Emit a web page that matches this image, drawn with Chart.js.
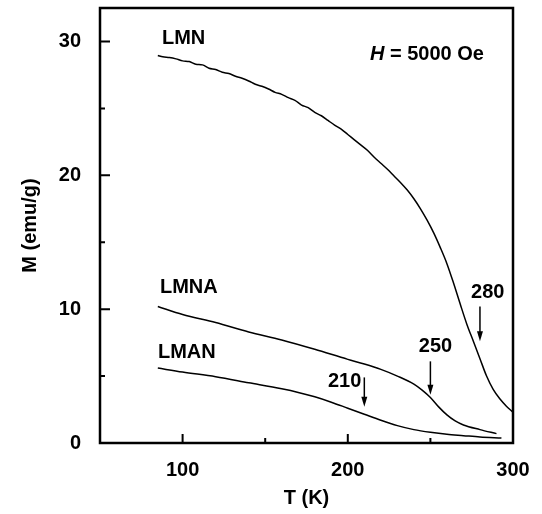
<!DOCTYPE html>
<html>
<head>
<meta charset="utf-8">
<script src="https://cdn.jsdelivr.net/npm/chart.js@4"></script>
<style>
  body { margin: 0; background: #fff; }
</style>
</head>
<body>
<canvas id="graf" width="542" height="514"></canvas>
<script>
// LMN, H = 5000 Oe
const tLMN = [85, 88, 92, 96, 100, 104, 108, 112, 116, 120, 124, 128, 132, 136, 140, 144, 148, 152, 156, 160,
  164, 168, 172, 176, 180, 184, 188, 192, 196, 200, 204, 208, 212, 216, 220, 224, 228, 232, 236, 240,
  244, 248, 252, 256, 260, 264, 268, 272, 276, 280, 284, 288, 292, 296, 300];
const mLMN = [28.95, 28.85, 28.8, 28.7, 28.55, 28.5, 28.3, 28.25, 28.0, 27.9, 27.7, 27.6, 27.4, 27.25, 27.05, 26.8, 26.65, 26.45, 26.2, 26.05,
  25.8, 25.6, 25.25, 25.05, 24.7, 24.45, 24.1, 23.75, 23.45, 23.05, 22.65, 22.25, 21.85, 21.35, 20.9, 20.45, 19.95, 19.45, 18.9, 18.25,
  17.5, 16.65, 15.7, 14.6, 13.4, 11.95, 10.4, 8.9, 7.6, 6.3, 5.0, 4.0, 3.3, 2.75, 2.3];

const tLMNA = [85, 100, 120, 140, 160, 180, 200, 210, 220, 230, 240, 245, 250, 255, 260, 265, 270, 280, 290];
const mLMNA = [10.2, 9.6, 9.0, 8.3, 7.7, 7.0, 6.25, 5.9, 5.5, 5.0, 4.4, 3.95, 3.4, 2.7, 2.1, 1.65, 1.35, 1.0, 0.7];

const tLMAN = [85, 100, 120, 140, 160, 170, 180, 190, 200, 210, 220, 230, 240, 250, 260, 270, 280, 293];
const mLMAN = [5.6, 5.3, 4.95, 4.5, 4.05, 3.78, 3.45, 3.05, 2.6, 2.15, 1.7, 1.3, 1.0, 0.8, 0.65, 0.55, 0.45, 0.37];

// flechas (T, M arriba, M abajo)
const flechaT = [210, 250, 280];
const flechaArriba = [4.9, 6.1, 10.2];
const flechaAbajo = [2.7, 3.6, 7.6];

// textos dentro del grafico
const textos = ['LMN', 'LMNA', 'LMAN', '210', '250', '280'];
const textoT = [87.5, 86.3, 85.1, 188, 243, 274.6];
const textoM = [29.8, 11.2, 6.36, 4.19, 6.8, 10.85];

const xTicksMayores = [100, 200, 300];
const xTicksMenores = [150, 250];
const yTicksMayores = [0, 10, 20, 30];
const yTicksMenores = [5, 15, 25];

const FUENTE = '"Liberation Sans", Arial, sans-serif';
const PESO = 'bold';

const puntos = (ts, ms) => ts.map((t, i) => ({ x: t, y: ms[i] }));

const extras = {
  id: 'extras',
  afterDraw(chart) {
    const { ctx, chartArea: a, scales: { x, y } } = chart;
    ctx.save();
    ctx.strokeStyle = '#000';
    ctx.fillStyle = '#000';

    // ticks hacia adentro
    ctx.lineWidth = 2;
    ctx.beginPath();
    xTicksMayores.forEach(v => { const px = x.getPixelForValue(v); ctx.moveTo(px, a.bottom); ctx.lineTo(px, a.bottom - 9); });
    xTicksMenores.forEach(v => { const px = x.getPixelForValue(v); ctx.moveTo(px, a.bottom); ctx.lineTo(px, a.bottom - 5); });
    yTicksMayores.forEach(v => { const py = y.getPixelForValue(v); ctx.moveTo(a.left, py); ctx.lineTo(a.left + 10, py); });
    yTicksMenores.forEach(v => { const py = y.getPixelForValue(v); ctx.moveTo(a.left, py); ctx.lineTo(a.left + 5, py); });
    ctx.stroke();

    // marco
    ctx.lineWidth = 2.5;
    ctx.strokeRect(a.left, a.top, a.right - a.left, a.bottom - a.top);

    // flechas
    ctx.lineWidth = 1.5;
    flechaT.forEach((t, i) => {
      const px = x.getPixelForValue(t);
      const p1 = y.getPixelForValue(flechaArriba[i]);
      const p2 = y.getPixelForValue(flechaAbajo[i]);
      ctx.beginPath();
      ctx.moveTo(px, p1);
      ctx.lineTo(px, p2 - 6);
      ctx.stroke();
      ctx.beginPath();
      ctx.moveTo(px, p2);
      ctx.lineTo(px - 3, p2 - 10);
      ctx.lineTo(px + 3, p2 - 10);
      ctx.closePath();
      ctx.fill();
    });

    // textos
    ctx.textBaseline = 'alphabetic';
    ctx.textAlign = 'left';
    ctx.font = PESO + ' 20px ' + FUENTE;
    textos.forEach((s, i) => {
      ctx.fillText(s, x.getPixelForValue(textoT[i]), y.getPixelForValue(textoM[i]));
    });

    // H = 5000 Oe
    const hx = x.getPixelForValue(213.4);
    const hy = y.getPixelForValue(28.6);
    ctx.font = 'italic ' + PESO + ' 20px ' + FUENTE;
    ctx.fillText('H', hx, hy);
    const w = ctx.measureText('H').width;
    ctx.font = PESO + ' 20px ' + FUENTE;
    ctx.fillText(' = 5000 Oe', hx + w, hy);

    ctx.restore();
  }
};

new Chart(document.getElementById('graf'), {
  type: 'scatter',
  data: {
    datasets: [
      { label: 'LMN', data: puntos(tLMN, mLMN) },
      { label: 'LMNA', data: puntos(tLMNA, mLMNA) },
      { label: 'LMAN', data: puntos(tLMAN, mLMAN) }
    ].map(d => Object.assign(d, {
      showLine: true,
      borderColor: '#000',
      borderWidth: 1.5,
      pointRadius: 0,
      cubicInterpolationMode: 'monotone',
      fill: false
    }))
  },
  options: {
    responsive: false,
    animation: false,
    layout: { padding: { top: 8, right: 29, left: 0, bottom: 0 } },
    scales: {
      x: {
        type: 'linear',
        min: 50,
        max: 300,
        grid: { display: false },
        border: { display: false },
        ticks: {
          stepSize: 50,
          autoSkip: false,
          maxRotation: 0,
          padding: 7,
          color: '#000',
          font: { family: FUENTE, size: 20, weight: PESO },
          callback: v => (v % 100 === 0 ? v : '')
        },
        title: {
          display: true,
          text: 'T (K)',
          color: '#000',
          font: { family: FUENTE, size: 20, weight: PESO },
          padding: { top: 0, bottom: 4 }
        },
        afterFit: s => { s.height = 71; s.paddingLeft = 0; s.paddingRight = 0; }
      },
      y: {
        min: 0,
        max: 32.5,
        grid: { display: false },
        border: { display: false },
        ticks: {
          stepSize: 5,
          padding: 11,
          color: '#000',
          font: { family: FUENTE, size: 20, weight: PESO },
          callback: v => (v % 10 === 0 ? v : '')
        },
        title: {
          display: true,
          text: 'M (emu/g)',
          color: '#000',
          font: { family: FUENTE, size: 20, weight: PESO },
          padding: { top: 18, bottom: 0 }
        },
        afterFit: s => { s.width = 100; s.paddingTop = 0; s.paddingBottom = 0; }
      }
    },
    plugins: {
      legend: { display: false },
      tooltip: { enabled: false }
    }
  },
  plugins: [extras]
});
</script>
</body>
</html>
